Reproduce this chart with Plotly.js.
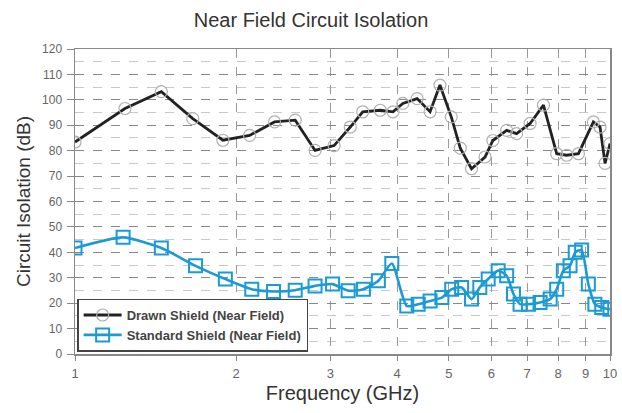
<!DOCTYPE html>
<html>
<head>
<meta charset="utf-8">
<script src="https://cdn.plot.ly/plotly-3.0.1.min.js"></script>
<style>html,body{margin:0;padding:0;background:#fff;}#chart{width:622px;height:413px;}</style>
</head>
<body>
<div id="chart"></div>
<script>
var drawnFreq = [1.0, 1.24, 1.45, 1.66, 1.89, 2.12, 2.36, 2.58, 2.81, 3.05, 3.27, 3.45, 3.72, 3.93, 4.10, 4.36, 4.61, 4.81, 5.05, 5.25, 5.51, 5.84, 6.04, 6.41, 6.69, 7.09, 7.51, 7.95, 8.30, 8.73, 9.31, 9.58, 9.79, 10.0];
var drawnDb   = [83.4, 96.6, 103.2, 92.6, 84.1, 86.0, 91.3, 92.0, 80.1, 82.0, 89.3, 95.3, 95.9, 95.3, 98.6, 100.5, 95.3, 105.8, 93.3, 81.0, 72.9, 77.5, 84.0, 88.0, 86.7, 90.7, 97.9, 78.8, 78.2, 78.8, 91.3, 89.3, 75.0, 82.8];

var stdFreq = [1.0, 1.23, 1.45, 1.68, 1.91, 2.14, 2.35, 2.58, 2.81, 3.03, 3.24, 3.46, 3.69, 3.91, 4.17, 4.38, 4.61, 4.85, 5.06, 5.28, 5.51, 5.71, 5.92, 6.18, 6.41, 6.60, 6.79, 7.04, 7.40, 7.73, 7.95, 8.18, 8.42, 8.61, 8.85, 9.11, 9.37, 9.65, 10.0];
var stdDb   = [41.7, 45.9, 41.7, 34.7, 29.5, 25.5, 24.6, 25.1, 26.8, 27.5, 24.9, 25.5, 28.8, 35.6, 18.9, 19.6, 20.9, 22.2, 25.5, 26.2, 21.6, 26.2, 29.5, 32.8, 30.8, 23.6, 19.6, 19.6, 20.3, 21.6, 25.5, 32.8, 34.7, 40.0, 40.9, 27.5, 19.6, 18.3, 17.6];

var xTickVals = [1, 2, 3, 4, 5, 6, 7, 8, 9, 10];
var xTickText = ['1', '2', '3', '4', '5', '6', '7', '8', '9', '10'];

var traces = [
  {
    x: drawnFreq, y: drawnDb, name: 'Drawn Shield (Near Field)',
    type: 'scatter', mode: 'lines+markers',
    line: {color: '#222222', width: 2.8},
    marker: {symbol: 'circle-open', size: 12, color: '#b0b0b0', line: {width: 1.2}}
  },
  {
    x: stdFreq, y: stdDb, name: 'Standard Shield (Near Field)',
    type: 'scatter', mode: 'lines+markers',
    line: {color: '#1b9ad6', width: 2.6, shape: 'spline', smoothing: 0.6},
    marker: {symbol: 'square-open', size: 13, color: '#1b9ad6', line: {width: 2}}
  }
];

var layout = {
  width: 622, height: 413,
  margin: {l: 75, r: 12, t: 49, b: 59},
  paper_bgcolor: '#ffffff', plot_bgcolor: '#ffffff',
  font: {family: 'Liberation Sans, Arial, sans-serif', color: '#222'},
  title: {text: 'Near Field Circuit Isolation', font: {size: 20, color: '#333'}, x: 0.5, xanchor: 'center', y: 0.951, yanchor: 'middle'},
  showlegend: true,
  legend: {
    x: 0.004, y: 0.008, xanchor: 'left', yanchor: 'bottom',
    bgcolor: '#ffffff', bordercolor: '#444', borderwidth: 1.5,
    font: {size: 13, color: '#444', family: 'Liberation Sans, Arial, sans-serif', weight: 'bold'},
    itemwidth: 38, tracegroupgap: 4
  },
  xaxis: {
    type: 'log', range: [0, 1],
    tickvals: xTickVals, ticktext: xTickText,
    tickfont: {size: 13, color: '#666'},
    ticks: 'outside', ticklen: 5, tickcolor: '#888',
    ticklabelstandoff: 2,
    showgrid: true, gridcolor: '#999', griddash: 'dash', gridwidth: 1,
    showline: true, linecolor: '#888', linewidth: 1.5, mirror: true,
    zeroline: false,
    title: {text: 'Frequency (GHz)', font: {size: 20, color: '#333'}, standoff: 6}
  },
  yaxis: {
    range: [0, 120], dtick: 10, tick0: 0,
    tickfont: {size: 12, color: '#666'},
    ticks: 'outside', ticklen: 7, tickcolor: '#888',
    ticklabelstandoff: 2,
    showgrid: true, gridcolor: '#888', griddash: 'dash', gridwidth: 1,
    minor: {dtick: 5, showgrid: true, gridcolor: '#c8c8c8', griddash: 'dash', gridwidth: 1},
    showline: true, linecolor: '#888', linewidth: 1.5, mirror: true,
    zeroline: false,
    title: {text: 'Circuit Isolation (dB)', font: {size: 19, color: '#333'}, standoff: 6}
  }
};

Plotly.newPlot('chart', traces, layout, {displayModeBar: false, staticPlot: true});
</script>
</body>
</html>
